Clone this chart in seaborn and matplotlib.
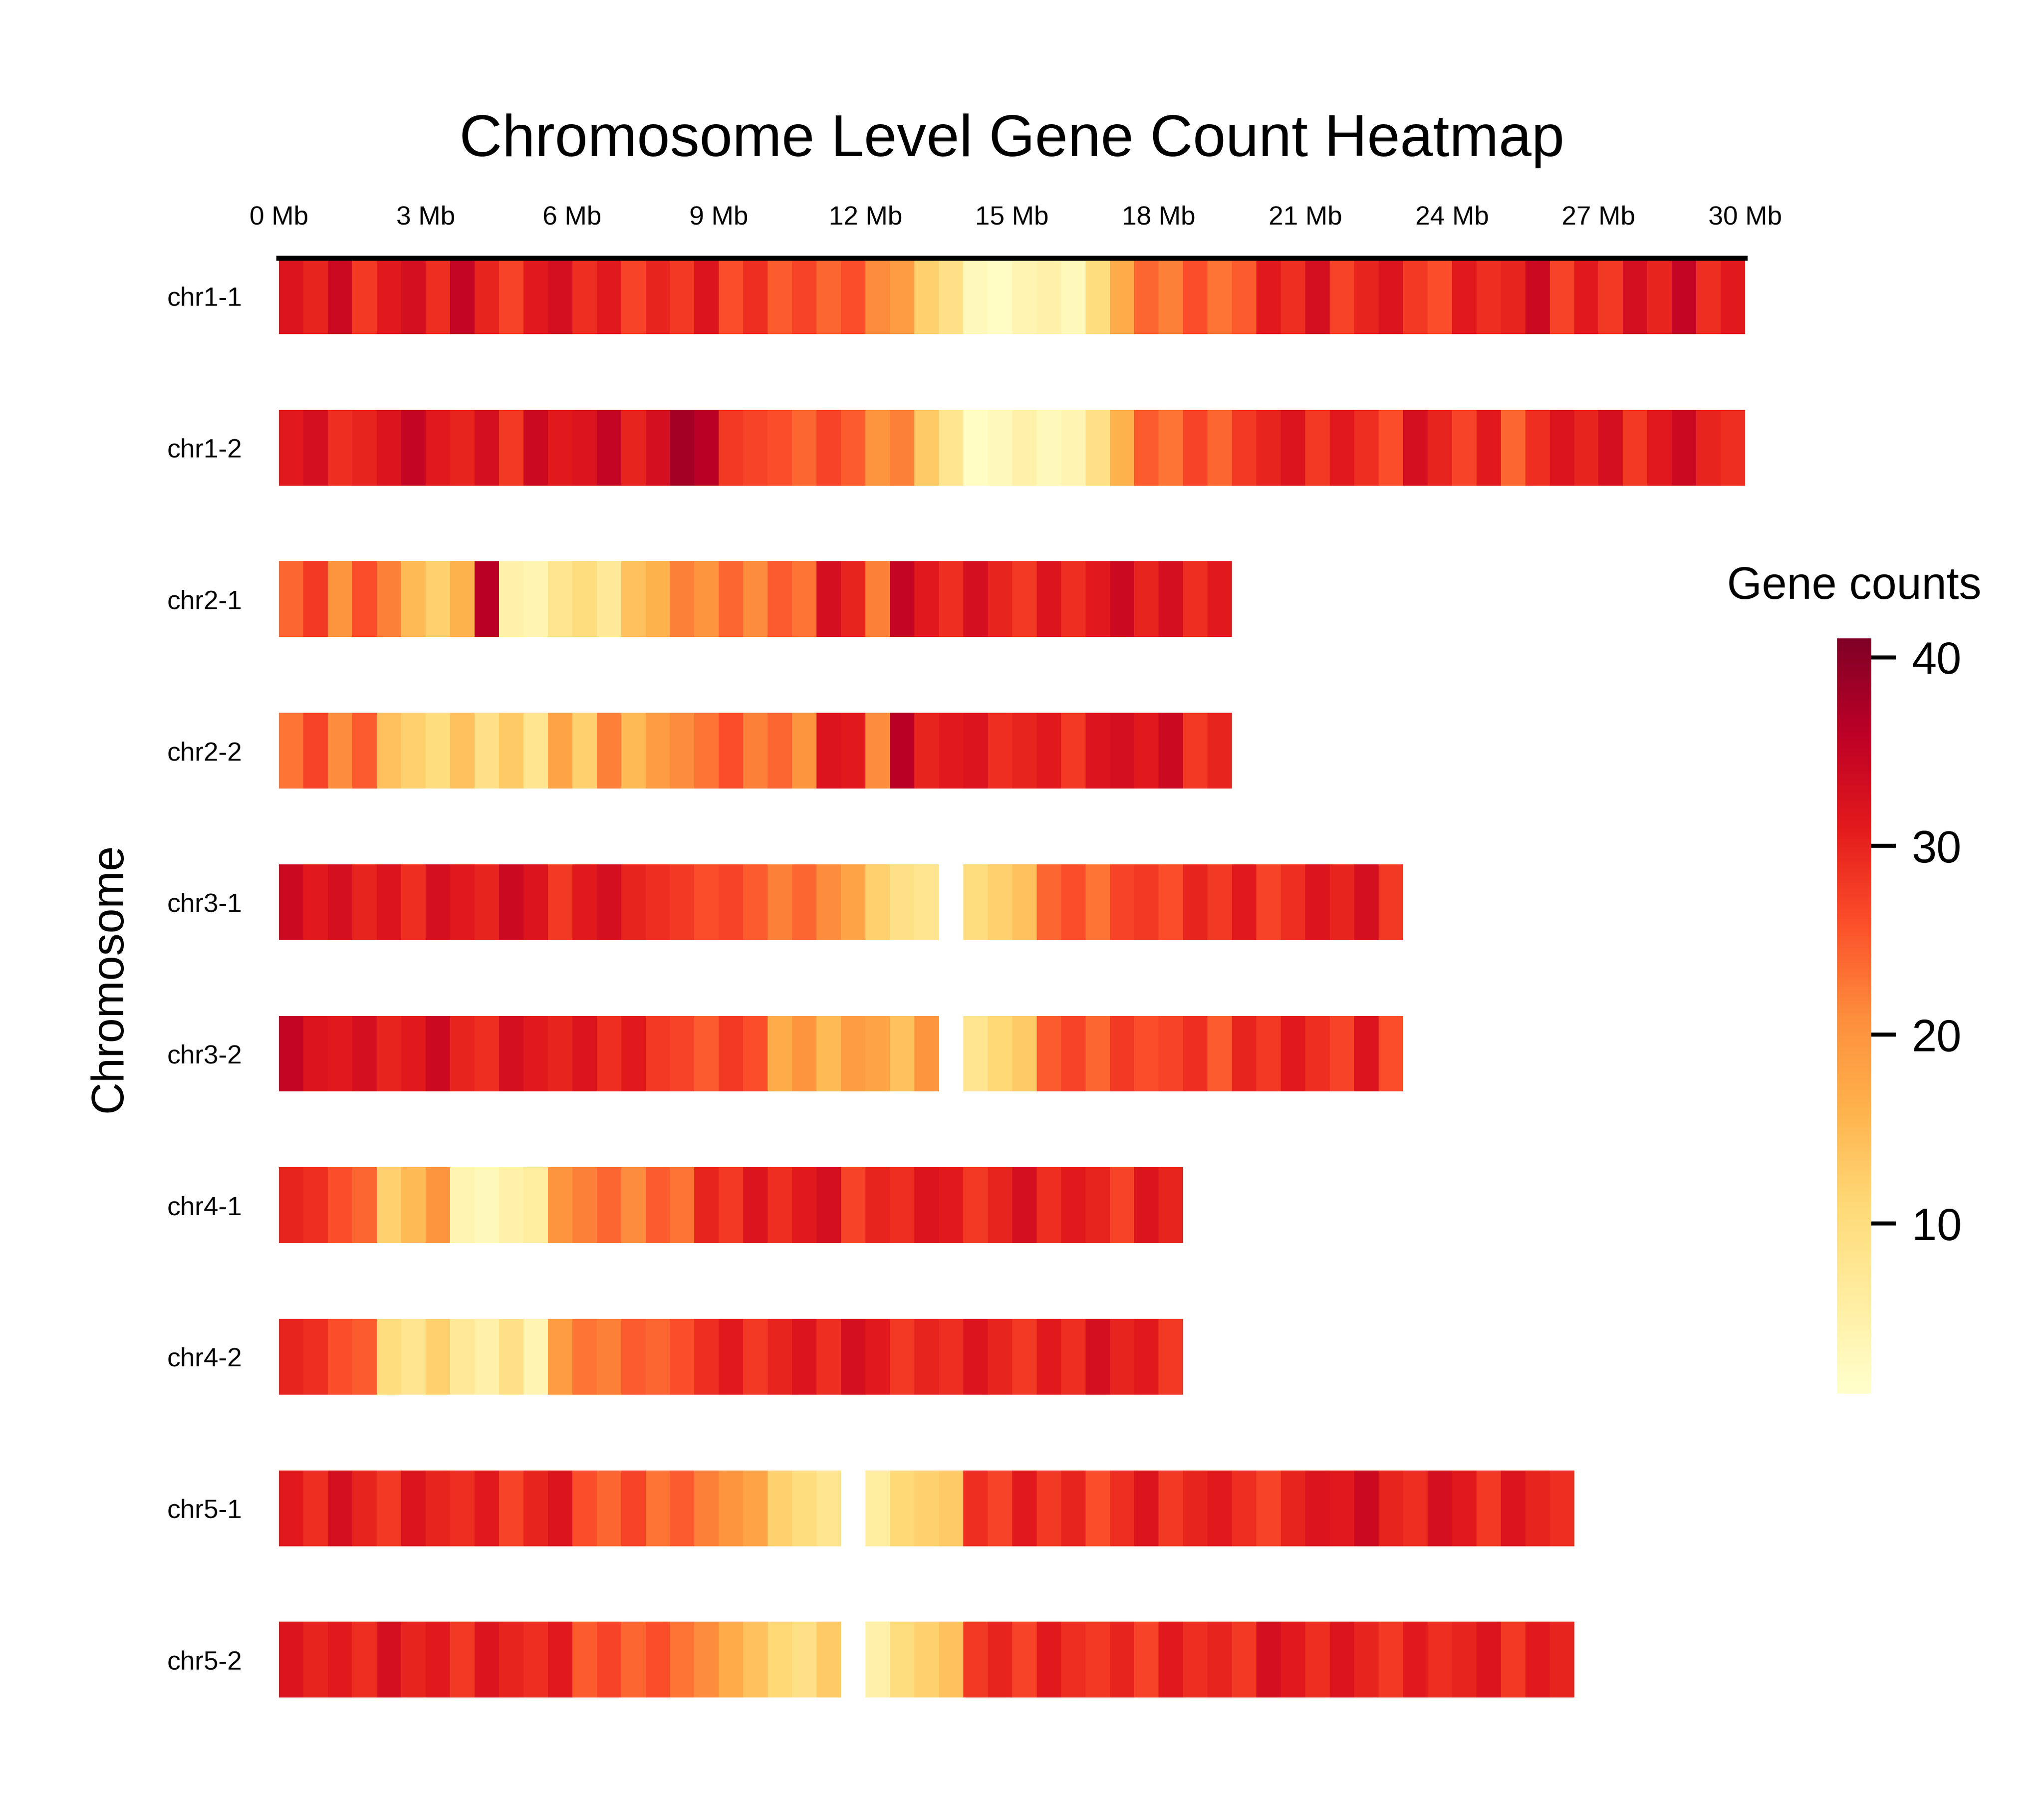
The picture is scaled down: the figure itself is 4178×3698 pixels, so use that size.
import numpy as np
import pandas as pd
import matplotlib
matplotlib.use("Agg")
import matplotlib.pyplot as plt
import seaborn as sns

nan = np.nan
# gene counts per 0.5 Mb bin
chr1_1 = [32,30,34,28,31,33,29,35,30,27,31,33, 29,31,27,30,28,32,26,29, 25,27,24,26, 21,19, 12,9, 3,2,4,5,3, 10,17, 24,22,26,23,25,
          31,29,33,27,30,32,28,26,31,29,30,34,27,31,28,33,30,35,29,31]
chr1_2 = [31,33,29,30,32,35,31,30,33,28,34,31, 32,35,30,33,38,36,28,27, 26,24,27,25, 20,22, 13,8, 2,3,5,3,4, 9,16, 25,23,27,24,28,
          30,32,28,31,29,26,33,30,27,31,24,29,32,30,33,28,31,34,30,29]
chr2_1 = [24,28,20,26,22, 15,12,16,36, 5,4,8,10,7,14,16, 22,20,24,21,25,23, 33,30, 22,
          35,31,29,33,30,28,32,29,31,34,30,33,29,31]
chr2_2 = [23,27,21,25,14, 12,10,14,9, 13,8,18,12,22,15,19, 21,23,26,22,24,20, 32,31, 21,
          36,30,31,32,29,30,31,28,32,33,31,34,28,30]
chr3_1 = [34,31,33,30,32,29,33,31,30,34,32,28,31,33,30,29, 28,26,27,25, 22,24,21,18, 12,9,8, nan, 10,12,14,
          24,26,23,27,28,26,30,28,31,27,29,32,30,33,28]
chr3_2 = [35,32,31,33,30,31,34,30,29,33,31,30,32,29,31,28, 27,25,28,26, 17,20,15,19, 18,14,20, nan, 8,11,13,
          25,27,24,28,26,27,29,25,30,28,31,29,27,32,26]
chr4_1 = [30,29, 26,24, 12,15, 20, 4,3,5,6, 20,22,24,21,25,23,
          30,28,32,29,31,33,27,30,29,32,31,28,30,33,29,31,30,27,32,30]
chr4_2 = [30,29, 26,25, 10,8, 12, 7,5,9,4, 19,23,22,25,24,26,
          29,31,28,30,32,29,33,31,28,30,29,32,30,28,31,29,33,30,31,28]
chr5_1 = [31,29,33,30,28,32,30,29,31,27,30,32, 26,24,27,23,25,22, 20,18, 12,10,8, nan, 6,11,12,13,
          29,27,31,28,30,26,29,32,28,30,31,29,27,30,32,31,34,30,29,33,31,28,32,30,29]
chr5_2 = [32,30,31,29,33,30,31,28,32,30,29,31, 25,27,24,26,23,21, 17,14, 11,9,13, nan, 5,10,12,14,
          28,30,27,31,29,28,30,27,31,29,30,28,33,31,29,32,30,28,31,29,30,32,28,31,30]

names = ["chr1-1", "chr1-2", "chr2-1", "chr2-2", "chr3-1", "chr3-2", "chr4-1", "chr4-2", "chr5-1", "chr5-2"]
rows = [chr1_1, chr1_2, chr2_1, chr2_2, chr3_1, chr3_2, chr4_1, chr4_2, chr5_1, chr5_2]
n_bins = 60
xlabels = [f"{m} Mb" for m in range(0, 31, 3)]

mat = []
idx = []
for i, (nm, r) in enumerate(zip(names, rows)):
    mat.append(list(r) + [nan] * (n_bins - len(r)))
    idx.append(nm)
    if i < len(rows) - 1:
        mat.append([nan] * n_bins)
        idx.append(f"gap{i}")
df = pd.DataFrame(mat, index=idx)

plt.rcParams['font.family'] = ['Liberation Sans', 'DejaVu Sans']
fig = plt.figure(figsize=(4178 / 300, 3698 / 300), dpi=300)
ax = fig.add_axes([0.1365, 0.0616, 0.7173, 0.7956])
cax = fig.add_axes([0.8987, 0.2297, 0.0167, 0.4174])

sns.heatmap(df, cmap="YlOrRd", vmin=1, vmax=41, ax=ax, cbar_ax=cax, mask=df.isna(),
            xticklabels=False, yticklabels=False)

ax.xaxis.tick_top()
ax.set_xticks(np.arange(0, 61, 6))
ax.set_xticklabels(xlabels, fontsize=13)
ax.set_yticks(np.arange(0, 19, 2) + 0.5)
ax.set_yticklabels(names, fontsize=13, rotation=0)
ax.tick_params(length=0, pad=14)
ax.tick_params(axis='y', pad=18)
ax.set_xlabel("")
ax.set_ylabel("Chromosome", fontsize=22, labelpad=18)
for s in ["left", "right", "bottom"]:
    ax.spines[s].set_visible(False)
ax.spines["top"].set_visible(True)
ax.spines["top"].set_linewidth(2.5)
ax.spines["top"].set_color("black")

cax.tick_params(labelsize=22, length=12, width=2, pad=8)
cax.set_yticks([10, 20, 30, 40])
for s in cax.spines.values():
    s.set_visible(False)
fig.text(0.907, 0.664, "Gene counts", fontsize=22, ha="center", va="bottom")
fig.text(0.495, 0.922, "Chromosome Level Gene Count Heatmap", fontsize=29, ha="center", va="center")

fig.savefig("out.png", dpi=300)
